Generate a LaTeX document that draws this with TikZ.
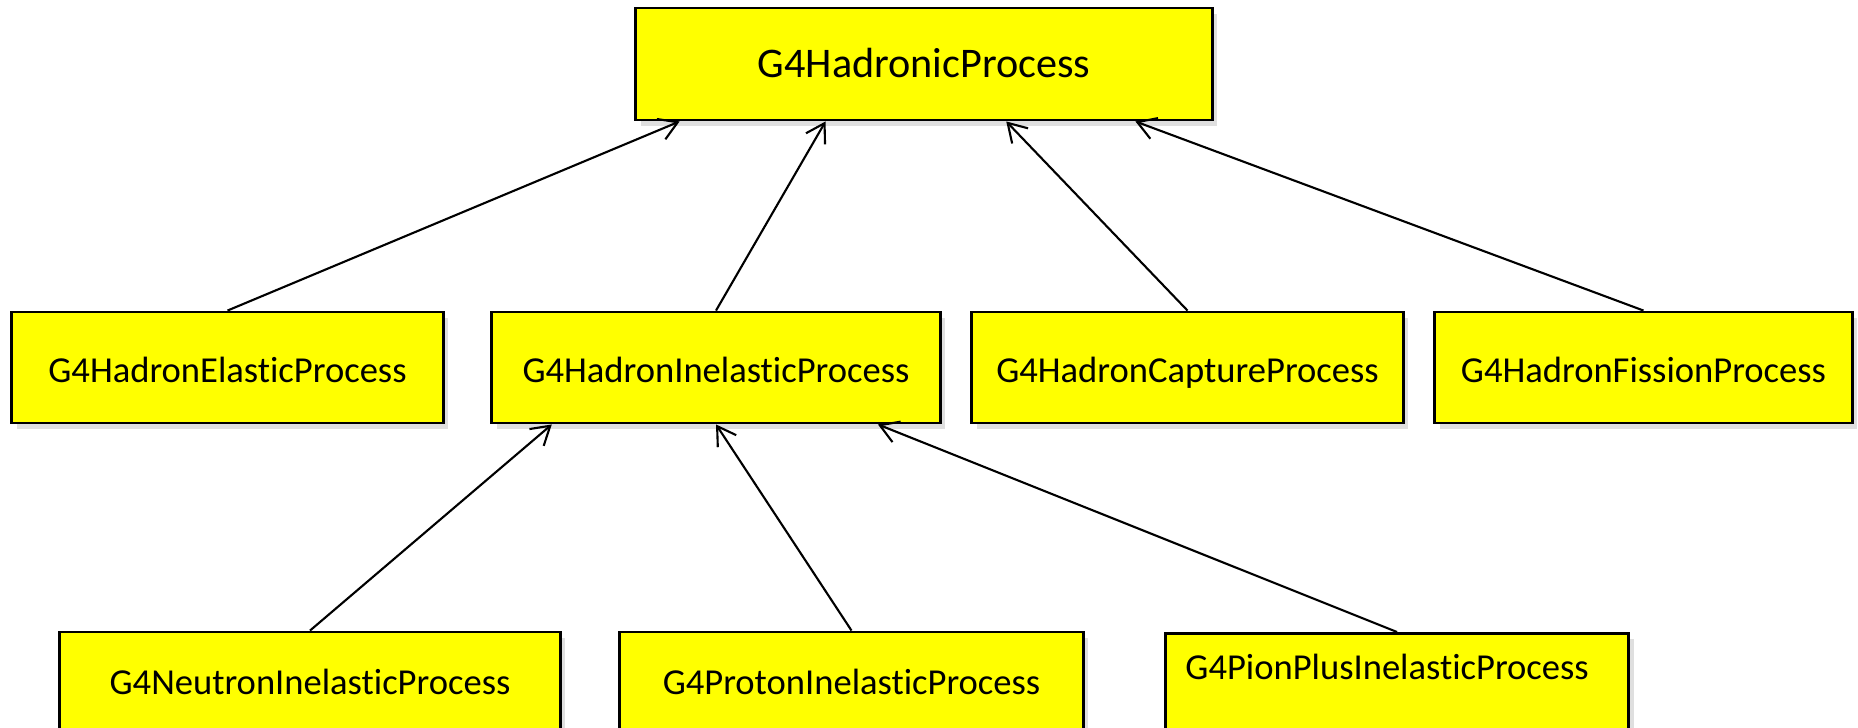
\documentclass[tikz,border=0pt]{standalone}
\usepackage{fontspec}
\setmainfont{Carlito}[Ligatures=NoCommon]
\usetikzlibrary{arrows.meta, calc, shadows}
\definecolor{boxfill}{RGB}{255, 255, 0}

\begin{document}
\begin{tikzpicture}[x=0.01cm, y=-0.01cm,
        procbox/.style={draw, line width=0.8pt, fill=boxfill, minimum height=1.11cm, inner sep=0pt,
            text height=0.9em, text depth=0.06em,
            drop shadow={opacity=0.25, shadow xshift=0.05cm, shadow yshift=-0.06cm},
            font=\fontsize{10.4}{12.5}\selectfont},
        inherit/.style={-{Straight Barb[length=1.8mm, width=2.2mm]}, line width=0.6pt}]
        \useasboundingbox (0,0) rectangle (1858,727);

        % Basisklasse
        \node[procbox, minimum width=5.76cm, minimum height=1.12cm, text height=0.88em, text depth=0.12em,
            font=\fontsize{12}{14}\selectfont] (hadronic) at (924,64) {G4HadronicProcess};

        % zweite Ebene
        \node[procbox, minimum width=4.31cm] (elastic) at (227.5,367.5) {G4HadronElasticProcess};
        \node[procbox, minimum width=4.48cm] (inelastic) at (716,367.5) {G4HadronInelasticProcess};
        \node[procbox, minimum width=4.31cm] (capture) at (1187.5,367.5) {G4HadronCaptureProcess};
        \node[procbox, minimum width=4.17cm] (fission) at (1643.5,367.5) {G4HadronFissionProcess};

        % dritte Ebene
        \node[procbox, minimum width=5.00cm, text height=0.7em, text depth=0.3em] (neutron) at (310,687.5) {G4NeutronInelasticProcess};
        \node[procbox, minimum width=4.63cm, text height=0.7em, text depth=0.3em] (proton) at (851.5,687.5) {G4ProtonInelasticProcess};
        \node[procbox, anchor=north west, minimum height=0pt, inner xsep=0.2cm, inner ysep=0pt,
            text width=4.23cm, align=left, text height=13pt, text depth=0.653cm]
            (pionplus) at (1164,632) {G4PionPlusInelasticProcess};

        % Vererbung
        \foreach \child/\pos in {elastic/0.078, inelastic/0.33, capture/0.642, fission/0.865} {
            \draw[inherit] (\child.north) -- ($(hadronic.south west)!\pos!(hadronic.south east)$);
        }
        \foreach \child/\pos in {neutron/0.136, proton/0.5, pionplus/0.859} {
            \draw[inherit] (\child.north) -- ($(inelastic.south west)!\pos!(inelastic.south east)$);
        }
    \end{tikzpicture}
\end{document}
